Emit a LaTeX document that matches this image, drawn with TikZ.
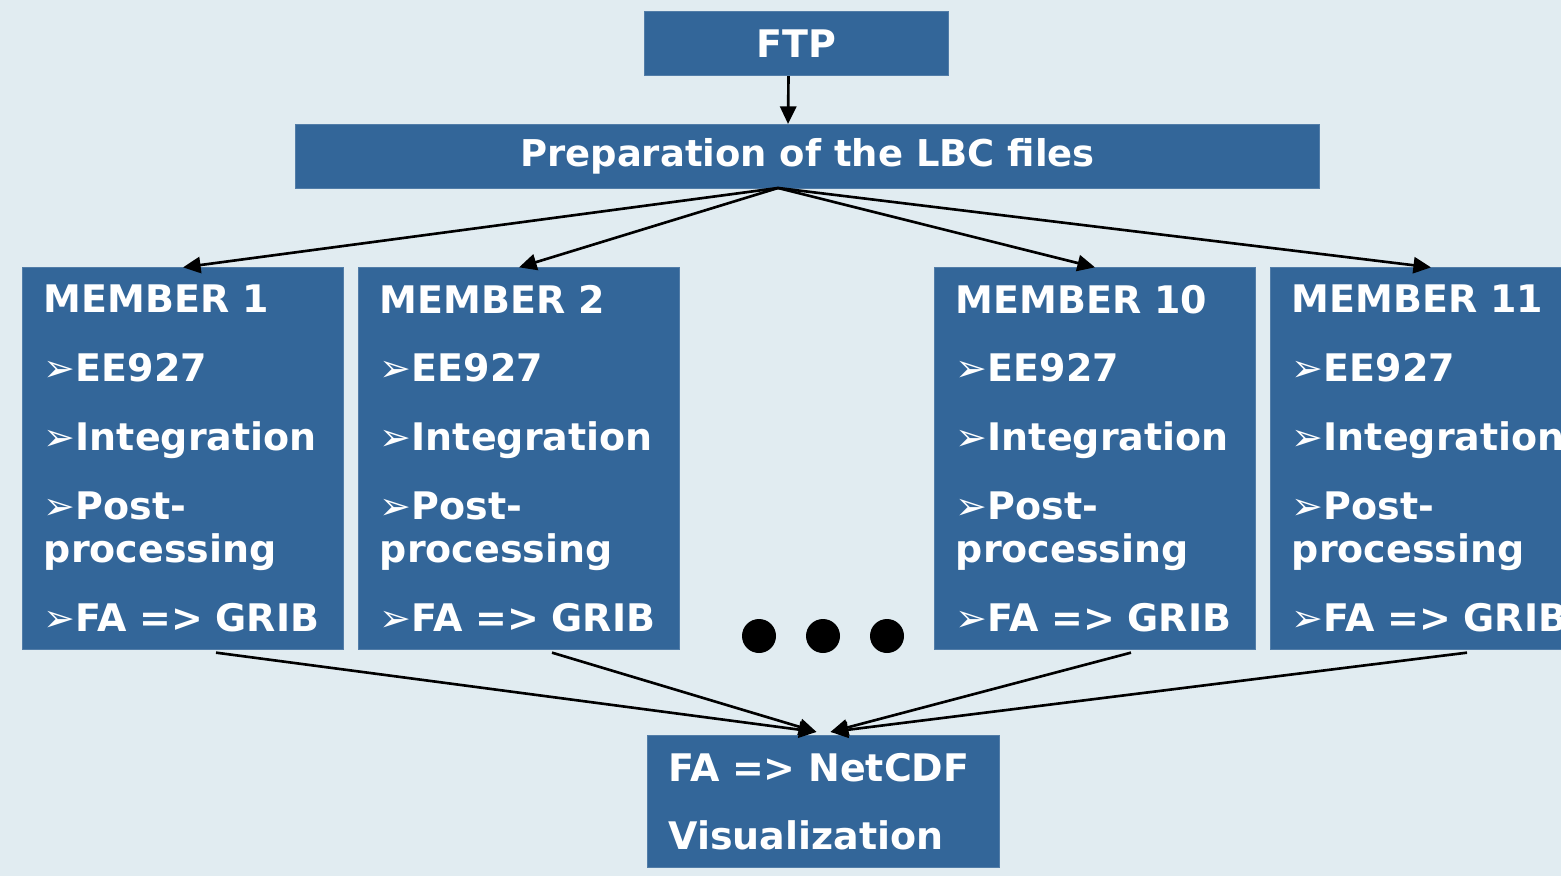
\documentclass[tikz,border=0pt]{standalone}
\usepackage{fontspec}
\setmainfont{DejaVu Sans}
\usetikzlibrary{arrows.meta,calc,positioning}

\definecolor{boxblue}{RGB}{51,102,153}
\definecolor{paleblue}{RGB}{225,236,241}

\newcommand{\bul}{\char"27A2\relax}
\newcommand{\gap}{7.4pt}
\newcommand{\memberlist}[1]{MEMBER~#1\\[\gap] \bul EE927\\[\gap] \bul Integration\\[\gap] \bul Post-\\ processing\\[\gap] \bul FA~=>~GRIB}

\tikzset{
  box/.style={fill=boxblue, draw=boxblue!85!white, line width=0.3pt, text=white,
    font=\fontsize{10.8}{12.2}\selectfont\bfseries, inner sep=0pt},
  member/.style={box, minimum width=3.2cm, minimum height=3.81cm, align=left,
    text width=2.78cm},
  arr/.style={-{Triangle[length=5pt,width=4.6pt]}, line width=0.75pt}
}

\begin{document}
\begin{tikzpicture}[x=0.01cm, y=-0.01cm]
\fill[paleblue] (0,0) rectangle (1561,876);
\useasboundingbox (0,0) rectangle (1561,876);
\clip (0,0) rectangle (1561,876);

%% top of the chain
\node[box, minimum width=3.04cm, minimum height=0.64cm] (ftp) at (796.5,43.5) {FTP};
\node[box, minimum width=10.24cm, minimum height=0.64cm, font=\fontsize{10.5}{12}\selectfont\bfseries] (prep) at (807.5,156.5) {Preparation of the LBC files};
\draw[arr] ($(ftp.south)+(-8,0)$) -- ($(prep.north)+(-19.5,0)$);

%% the ensemble members
\node[member] (m1) at (183,458.5) {\memberlist{1}};
\node[member] (m2) at (519,458.5) {\memberlist{2}};
\node[member] (m10) at (1095,458.5) {\memberlist{10}};
\node[member] (m11) at (1431,458.5) {\memberlist{11}};

\foreach \x in {759,823,887}{
  \fill (\x,636) circle (17);
}

%% output box
\node[box, minimum width=3.52cm, minimum height=1.32cm, align=left, text width=3.1cm] (out) at (823.5,801.5)
  {FA => NetCDF\\[7.2pt] Visualization};

\coordinate (fan) at (778,188);
\foreach \m in {m1,m2,m10,m11}{
  \draw[arr] (fan) -- (\m.north);
}
\draw[arr] ($(m1.south)+(33,3)$) -- ($(out.north)+(-7,-3)$);
\draw[arr] ($(m2.south)+(33,3)$) -- ($(out.north)+(-7,-3)$);
\draw[arr] ($(m10.south)+(36,3)$) -- ($(out.north)+(7,-3)$);
\draw[arr] ($(m11.south)+(36,3)$) -- ($(out.north)+(7,-3)$);
\end{tikzpicture}
\end{document}
